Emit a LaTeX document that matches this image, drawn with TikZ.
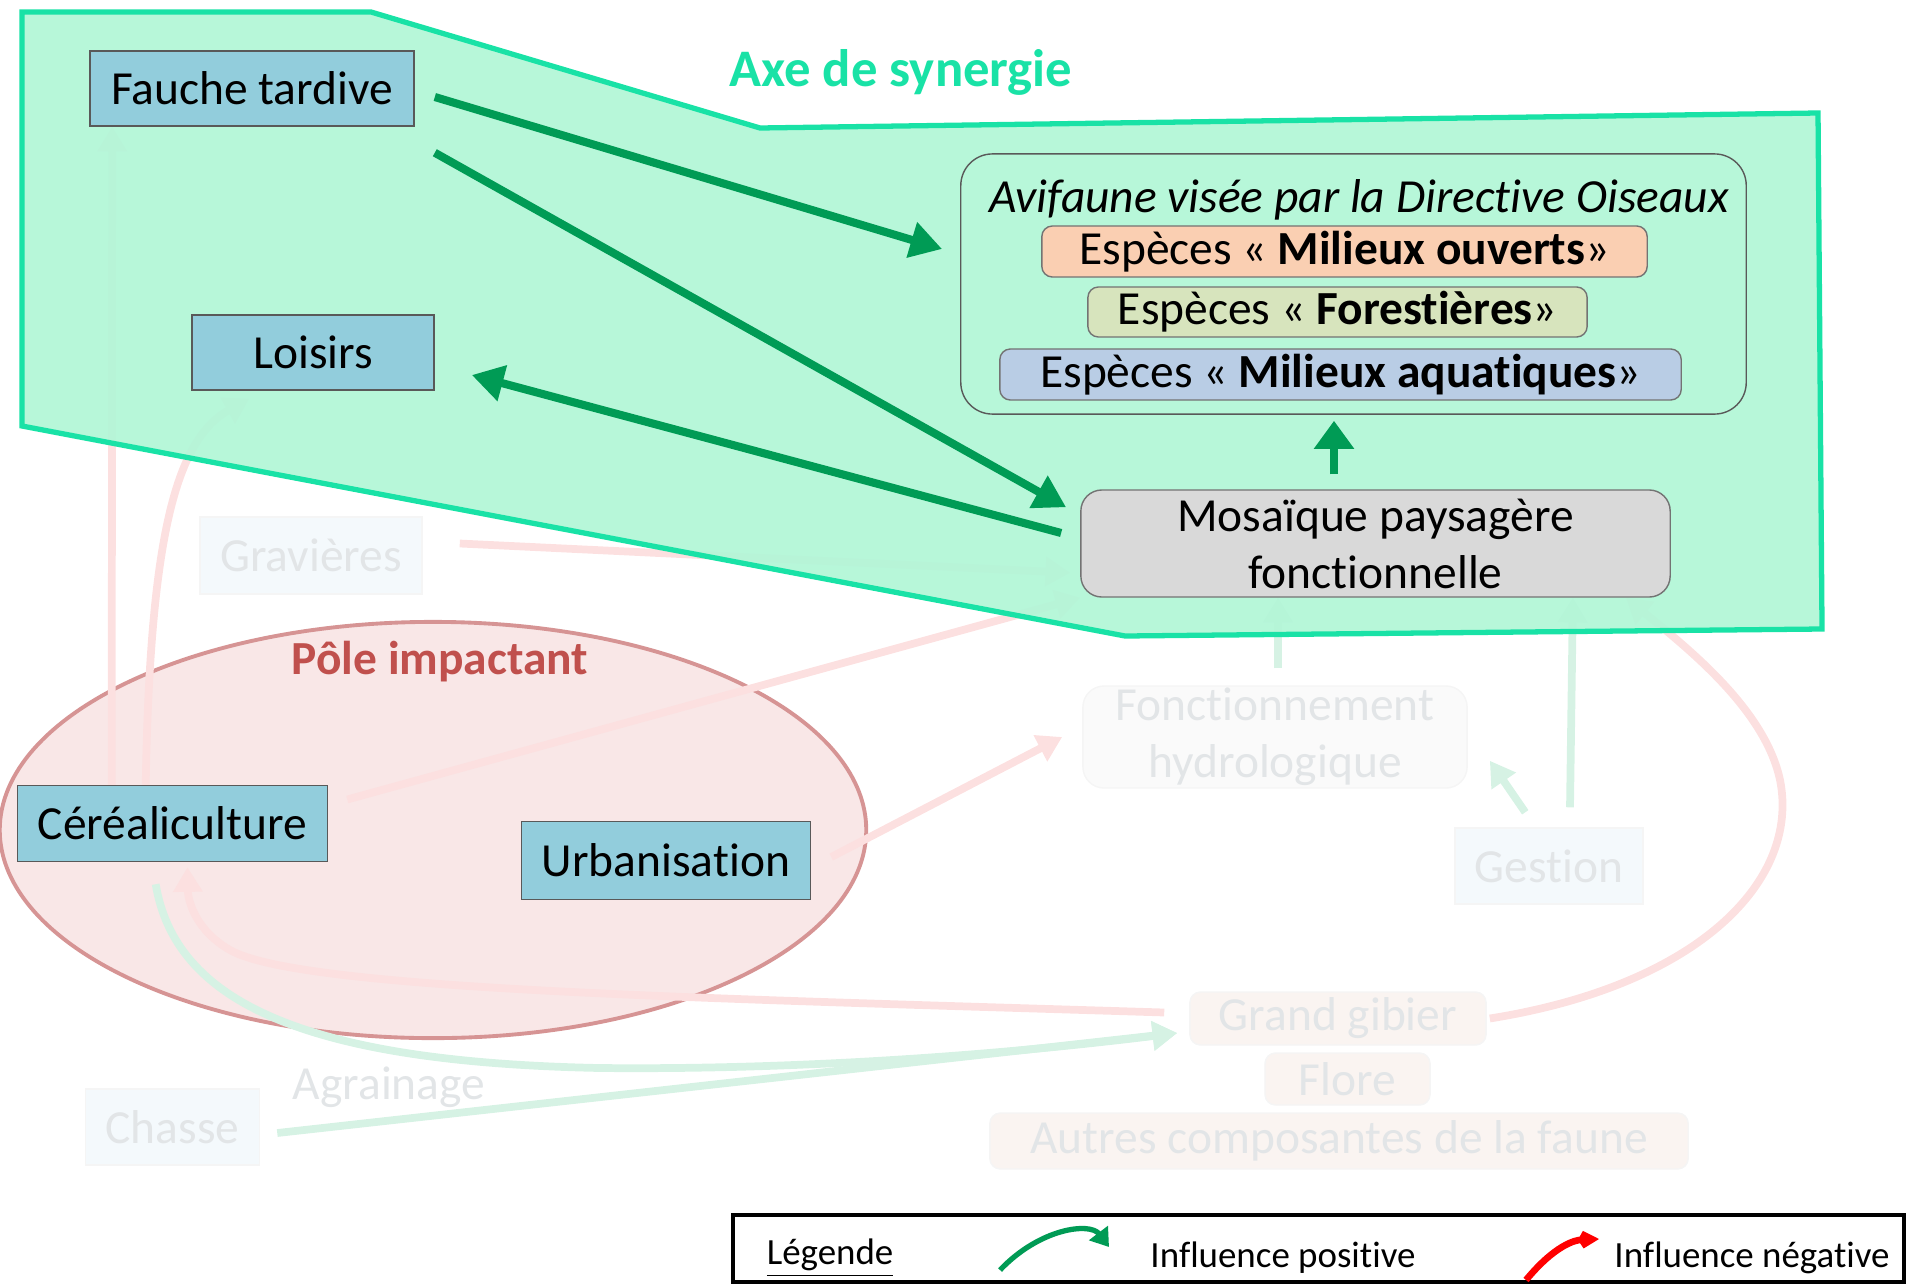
\documentclass[tikz,border=0pt]{standalone}
\usepackage{fontspec}
\setmainfont[Ligatures={NoCommon}]{Carlito}
\usetikzlibrary{calc}
\usetikzlibrary{arrows.meta}

% keeps t and i apart
\newcommand{\brk}{\kern0pt}

\definecolor{boxblue}{RGB}{146,205,220}
\definecolor{synfill}{RGB}{179,246,215}
\definecolor{synline}{RGB}{25,226,166}
\definecolor{posgreen}{RGB}{0,155,85}
\definecolor{ouvfill}{RGB}{250,207,178}
\definecolor{forfill}{RGB}{215,228,189}
\definecolor{aqufill}{RGB}{185,205,229}
\definecolor{mosfill}{RGB}{217,217,217}
\definecolor{polefill}{RGB}{249,231,231}
\definecolor{poleline}{RGB}{214,148,148}
\definecolor{poletext}{RGB}{192,80,77}
\definecolor{fadepink}{RGB}{252,224,224}
\definecolor{fadegreen}{RGB}{214,242,228}
\definecolor{fadetext}{RGB}{226,229,231}
\definecolor{fadeblue}{RGB}{244,249,252}
\definecolor{fadebeige}{RGB}{250,244,241}

\pgfdeclarelayer{back}
\pgfdeclarelayer{mid}
\pgfsetlayers{back,mid,main}

\begin{document}
\begin{tikzpicture}[x=0.01cm, y=-0.01cm,
		actor/.style={draw=black!65, fill=boxblue, inner sep=0pt, font=\fontsize{13.5}{16.2}\selectfont},
		espece/.style={draw=black!55, rounded corners=3pt, inner sep=0pt, font=\fontsize{13.5}{16.2}\selectfont},
		faded/.style={draw=black!4, inner sep=0pt, text=fadetext, font=\fontsize{13.5}{16.2}\selectfont},
		synarrow/.style={draw=posgreen, line width=2.3pt, -{Triangle[length=9pt,width=10pt]}},
		fneg/.style={draw=fadepink, line width=2.2pt, -{Triangle[length=7pt,width=8pt]}},
		fpos/.style={draw=fadegreen, line width=2.2pt, -{Triangle[length=7pt,width=8pt]}},
		legtext/.style={font=\fontsize{10.5}{12.6}\selectfont}]
	\useasboundingbox (0,0) rectangle (1907,1285);

	% actors
	\node[actor, minimum width=3.24cm, minimum height=0.75cm] (fauche) at (252,88.5) {Fauche tardive};
	\node[actor, minimum width=2.42cm, minimum height=0.75cm] (loisirs) at (313,352.5) {Loisirs};
	\node[actor, minimum width=3.10cm, minimum height=0.76cm] (cereal) at (172.5,823.5) {Céréaliculture};
	\node[actor, minimum width=2.89cm, minimum height=0.78cm] (urba) at (666,860.5) {Urbanisat\brk ion};

	% birds
	\node[draw=black!65, rounded corners=9pt, minimum width=7.85cm, minimum height=2.60cm] (avif) at (1353.5,284) {};
	\node[font=\fontsize{13.5}{16.2}\selectfont\itshape] (aviftitle) at (1359,200) {Avifaune visée par la Direct\brk ive Oiseaux};
	\node[espece, fill=ouvfill, minimum width=6.05cm, minimum height=0.51cm] (ouverts) at (1344.5,251.5) {Espèces « \textbf{Milieux ouverts}»};
	\node[espece, fill=forfill, minimum width=4.99cm, minimum height=0.50cm] (forest) at (1337.5,312) {Espèces « \textbf{Forest\brk ières}»};
	\node[espece, fill=aqufill, minimum width=6.81cm, minimum height=0.51cm] (aqua) at (1340.5,374.5) {Espèces « \textbf{Milieux aquat\brk iques}»};
	\node[espece, fill=mosfill, rounded corners=6pt, align=center, minimum width=5.89cm, minimum height=1.07cm] (mosaique) at (1375.5,543.5) {Mosaïque paysagère\\fonct\brk ionnelle};

	% faded part of the network
	\node[faded, fill=fadeblue, minimum width=2.22cm, minimum height=0.77cm] (gravieres) at (311,555.5) {Gravières};
	\node[faded, fill=black!2, rounded corners=6pt, align=center, minimum width=3.84cm, minimum height=1.02cm] (fonction) at (1275,737) {Fonct\brk ionnement\\hydrologique};
	\node[faded, fill=fadeblue, minimum width=1.88cm, minimum height=0.76cm] (gestion) at (1549,866) {Gest\brk ion};
	\node[faded, fill=fadebeige, rounded corners=3pt, minimum width=2.96cm, minimum height=0.53cm] (gibier) at (1338,1018.5) {Grand gibier};
	\node[faded, fill=fadebeige, rounded corners=3pt, minimum width=1.65cm, minimum height=0.52cm] (flore) at (1347.5,1079) {Flore};
	\node[faded, fill=fadebeige, rounded corners=3pt, minimum width=6.98cm, minimum height=0.56cm] (autres) at (1339,1141) {Autres composantes de la faune};
	\node[faded, fill=fadeblue, minimum width=1.74cm, minimum height=0.76cm] (chasse) at (172.5,1127) {Chasse};
	\node[text=fadetext, font=\fontsize{13.5}{16.2}\selectfont] (agrainage) at (389,1087) {Agrainage};

	\begin{pgfonlayer}{back}
		\draw[fill=polefill, draw=poleline, line width=1.1pt] (433,830) ellipse [x radius=4.33cm, y radius=2.08cm];

		\draw[fneg] ($(cereal.north west)+(95,0)$)--($(fauche.south west)+(23,0)$);
		\draw[fneg] ($(cereal.north west)+(129,0)$) .. controls (150,540) and (175,440) .. ($(loisirs.south west)+(58,8)$);
		\draw[fneg] ($(gravieres.east)+(37,-12)$)--($(mosaique.south west)+(-10,-25)$);
		\draw[fneg] ($(cereal.east)+(19,-24)$)--(mosaique.south west);
		\draw[fneg] ($(urba.east)+(20,-3.5)$)--($(fonction.west)+(-20,0)$);
		\draw[fneg] ($(gibier.west)+(-25,-6)$) .. controls (700,998) and (300,990) .. (230,950) .. controls (195,930) and (188,900) .. ($(cereal.south)+(15,5)$);
		\draw[fneg] ($(gibier.east)+(3,0)$) .. controls (1700,985) and (1800,880) .. (1780,780) .. controls (1765,710) and (1690,650) .. ($(mosaique.south east)+(-45,0)$);

		\draw[fpos] ($(fonction.north)+(3,-17)$)--($(mosaique.south)+(-97.5,0)$);
		\draw[fpos] ($(gestion.north)+(21,-20)$)--($(mosaique.south east)+(-98,0)$);
		\draw[fpos] ($(gestion.north west)+(71,-15)$)--($(fonction.south east)+(22,-28)$);
		\draw[fpos] ($(cereal.south west)+(139,22)$) .. controls (175,1000) and (300,1062) .. (600,1068) .. controls (800,1070) and (1000,1055) .. ($(gibier.west)+(-12,14.5)$);
		\draw[fpos] ($(chasse.east)+(17,6)$)--($(gibier.west)+(-12,14.5)$);
	\end{pgfonlayer}

	% synergy area
	\begin{pgfonlayer}{mid}
		\draw[fill=synfill, fill opacity=0.94, draw=synline, line width=1.5pt] (22,12)--(371,12)--(760,128)--(1818,113)--(1822,629)--(1125,636)--(22,426)--cycle;
	\end{pgfonlayer}
	\node[text=synline, font=\fontsize{15}{18}\selectfont\bfseries] (axe) at (901,72) {Axe de synergie};
	\node[text=poletext, font=\fontsize{13.5}{16.2}\selectfont\bfseries] (pole) at (440,662) {Pôle impactant};

	\draw[synarrow] ($(fauche.east)+(20,8.5)$)--($(avif.west)+(-18,-35)$);
	\draw[synarrow] ($(fauche.south east)+(20,26)$)--($(mosaique.north west)+(-14,18)$);
	\draw[synarrow] ($(mosaique.west)+(-19,-10.5)$)--($(loisirs.east)+(37,22.5)$);
	\draw[synarrow, -{Triangle[length=8pt,width=11pt]}] ($(mosaique.north)+(-41.5,-15)$)--($(avif.south)+(-19.5,6)$);

	% legend
	\draw[line width=1.4pt] (733,1215) rectangle (1904,1282);
	\node[legtext] (legende) at (830,1258) {\underline{Légende}};
	\coordinate (posa) at (1000,1270);
	\coordinate (posb) at (1109,1247);
	\draw[draw=posgreen, line width=1.5pt, -{Triangle[length=5pt,width=6.5pt]}] (posa) .. controls (1040,1228) and (1090,1222) .. (posb);
	\node[legtext] (legpos) at (1283,1258) {Influence posit\brk ive};
	\coordinate (nega) at (1526,1280);
	\coordinate (negb) at (1599,1239);
	\draw[draw=red, line width=1.9pt, -{Kite[length=6pt,width=5pt]}] (nega) .. controls (1555,1245) and (1575,1240) .. (negb);
	\node[legtext] (legneg) at (1752,1258) {Influence négat\brk ive};
\end{tikzpicture}
\end{document}
